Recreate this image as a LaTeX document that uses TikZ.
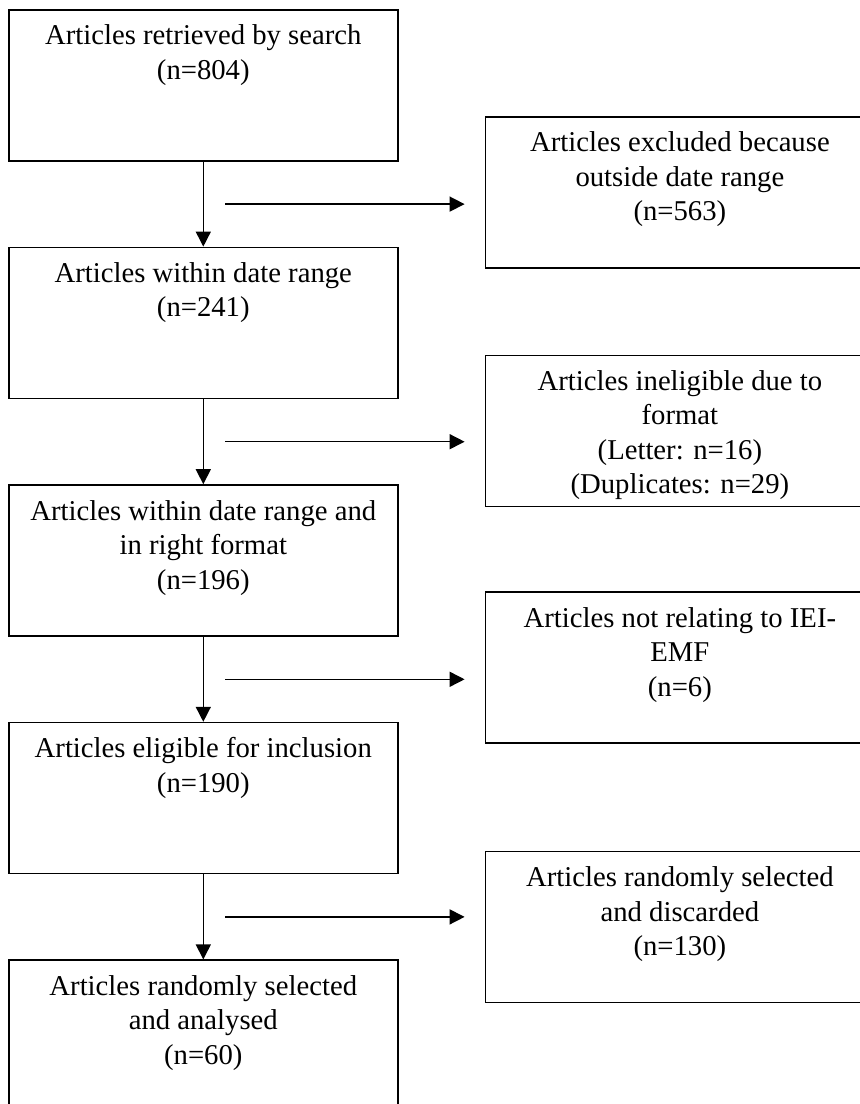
\documentclass[tikz,border=0pt]{standalone}
\usepackage{fontspec}
\setmainfont{Liberation Serif}
\usetikzlibrary{arrows.meta,positioning,calc}

\begin{document}
\begin{tikzpicture}[
  x=1pt, y=-1pt,
  font=\fontsize{28.7pt}{34.5pt}\selectfont,
  >={Triangle[width=15pt,length=15pt]},
  box/.style={
    draw,
    line width=1.6pt,
    anchor=north west,
    inner sep=0pt,
    minimum width=389pt,
    minimum height=151pt,
    execute at begin node={\begin{minipage}[t][151pt][t]{389pt}\centering\rule{0pt}{35pt}},
    execute at end node={\end{minipage}}
  },
  arrow/.style={->, line width=1.5pt}
]
  \useasboundingbox (0,0) rectangle (860,1104);
  \clip (0,0) rectangle (860,1104);

  % main stream
  \node[box] (a1) at (8,9) {Articles retrieved by search\\(n=804)};
  \node[box, below=85pt of a1.south west, anchor=north west] (a2) {Articles within date range\\(n=241)};
  \node[box, below=85pt of a2.south west, anchor=north west] (a3) {Articles within date range and\\in right format\\(n=196)};
  \node[box, below=85pt of a3.south west, anchor=north west] (a4) {Articles eligible for inclusion\\(n=190)};
  \node[box, below=85pt of a4.south west, anchor=north west] (a5) {Articles randomly selected\\and analysed\\(n=60)};

  % exclusions
  \node[box] (r1) at ([xshift=86pt, yshift=-107pt]a1.north east) {Articles excluded because\\outside date range\\(n=563)};
  \node[box] (r2) at ([xshift=86pt, yshift=-108pt]a2.north east) {Articles ineligible due to\\format\\(Letter: n=16)\\(Duplicates: n=29)};
  \node[box] (r3) at ([xshift=86pt, yshift=-107pt]a3.north east) {Articles not relating to IEI-\\EMF\\(n=6)};
  \node[box] (r4) at ([xshift=86pt, yshift=-129pt]a4.north east) {Articles randomly selected\\and discarded\\(n=130)};

  \foreach \i/\j in {1/2, 2/3, 3/4, 4/5} {
    \draw[arrow] (a\i) -- (a\j);
    \coordinate (h\i) at ([xshift=22pt]$(a\i.south)!0.5!(a\j.north)$);
    \draw[arrow, shorten >=20pt] (h\i) -- (h\i -| r\i.west);
  }
\end{tikzpicture}
\end{document}
